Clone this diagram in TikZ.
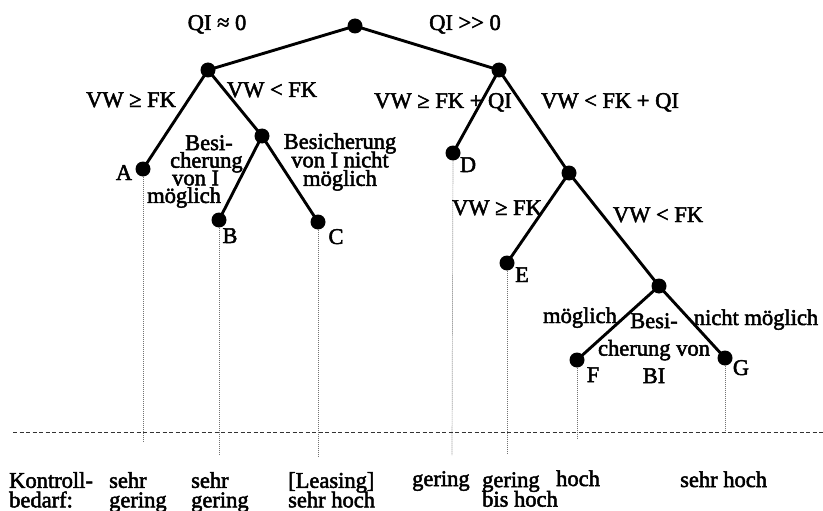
\documentclass[tikz,border=0pt]{standalone}
\usepackage{fontspec}
\setmainfont{Liberation Serif}[FakeBold=2.2]
\begin{document}
\begin{tikzpicture}[x=1pt,y=-1pt,
  dot/.style={circle,fill=black,inner sep=0pt,minimum width=15pt,minimum height=14pt},
  branch/.style={line width=2.9pt},
  leafline/.style={line width=0.7pt,draw=black!55,dash pattern=on 1pt off 1pt},
  baseline/.style={line width=0.9pt,draw=black!80,dash pattern=on 4pt off 2.5pt},
  lbl/.style={inner sep=0pt,font=\fontsize{22.5}{20}\selectfont},
  ml/.style={inner sep=0pt,anchor=north,font={\fontsize{22.5}{#1}\selectfont\lineskiplimit=-100pt}},
]
\useasboundingbox (0,0) rectangle (823,511);
% decision nodes
\node[dot] (root) at (355,26) {};
\node[dot] (l1) at (208,70) {};
\node[dot] (r1) at (499,70) {};
\node[dot] (A) at (143,169) {};
\node[dot] (n1) at (262,136) {};
\node[dot] (B) at (219,220) {};
\node[dot] (C) at (318,222) {};
\node[dot] (D) at (453,153) {};
\node[dot] (n2) at (569,173) {};
\node[dot] (E) at (507,263) {};
\node[dot] (n3) at (659,286) {};
\node[dot] (F) at (577,360) {};
\node[dot] (G) at (725,358) {};
% branches
\draw[branch] (root.center) -- (l1.center);
\draw[branch] (root.center) -- (r1.center);
\draw[branch] (l1.center) -- (A.center);
\draw[branch] (l1.center) -- (n1.center);
\draw[branch] (n1.center) -- (B.center);
\draw[branch] (n1.center) -- (C.center);
\draw[branch] (r1.center) -- (D.center);
\draw[branch] (r1.center) -- (n2.center);
\draw[branch] (n2.center) -- (E.center);
\draw[branch] (n2.center) -- (n3.center);
\draw[branch] (n3.center) -- (F.center);
\draw[branch] (n3.center) -- (G.center);
% leaf lines
\coordinate (Ae) at (143,442);
\coordinate (Be) at (219,455);
\coordinate (Ce) at (318,457);
\coordinate (De) at (452,455);
\coordinate (Ee) at (507,453);
\coordinate (Fe) at (577,438);
\coordinate (Ge) at (725,433);
\draw[leafline] (A) -- (Ae);
\draw[leafline] (B) -- (Be);
\draw[leafline] (C) -- (Ce);
\draw[leafline] (D) -- (De);
\draw[leafline] (E) -- (Ee);
\draw[leafline] (F) -- (Fe);
\draw[leafline] (G) -- (Ge);
% dashed base line
\coordinate (dl) at (13,432);
\coordinate (dr) at (823,432);
\draw[baseline] (dl) -- (dr);
% branch labels
\node[lbl,anchor=base] (t1) at (217,30) {QI ≈ 0};
\node[lbl,anchor=base] (t2) at (465,30) {QI >{}> 0};
\node[lbl,anchor=base] (t3) at (131,107) {VW ≥ FK};
\node[lbl,anchor=base] (t4) at (272,97) {VW < FK};
\node[lbl,anchor=base] (t5) at (443,108) {VW ≥ FK + QI};
\node[lbl,anchor=base] (t6) at (610,108) {VW < FK + QI};
\node[lbl,anchor=base] (t7) at (497,215) {VW ≥ FK};
\node[lbl,anchor=base] (t8) at (658,222) {VW < FK};
\node[lbl,anchor=base] (t9) at (580,323) {möglich};
\node[lbl,anchor=base] (t10) at (756,325) {nicht möglich};
\node[ml=17.6,anchor=north west,align=left] (t11) at (147,135)
  {\hspace*{38pt}Besi-\\\hspace*{23pt}cherung\\\hspace*{25pt}von I\\möglich};
\node[ml=18.5,align=center] (t12) at (340,133) {Besicherung\\von I nicht\\möglich};
\node[ml=27.5,align=center] (t13) at (654,313) {Besi-\\cherung von\\BI};
% leaf letters
\node[lbl,anchor=base] (lA) at (124,180) {A};
\node[lbl,anchor=base] (lB) at (230,243) {B};
\node[lbl,anchor=base] (lC) at (336,244) {C};
\node[lbl,anchor=base] (lD) at (468,172) {D};
\node[lbl,anchor=base] (lE) at (522,282) {E};
\node[lbl,anchor=base] (lF) at (593,382) {F};
\node[lbl,anchor=base] (lG) at (741,375) {G};
% bottom row
\node[ml=19.5,anchor=north west,align=left] (k0) at (9,472) {Kontroll-\\bedarf:};
\node[ml=19.5,anchor=north west,align=left] (k1) at (109,472) {sehr\\gering};
\node[ml=19.5,anchor=north west,align=left] (k2) at (191,472) {sehr\\gering};
\node[ml=19.5,anchor=north west,align=left] (k3) at (288,472) {[Leasing]\\sehr hoch};
\node[lbl,anchor=base west] (k4) at (412,486) {gering};
\node[ml=19.5,anchor=north west,align=left] (k5) at (482,472) {gering\\bis hoch};
\node[lbl,anchor=base west] (k6) at (556,486) {hoch};
\node[lbl,anchor=base west] (k7) at (680,487) {sehr hoch};
\end{tikzpicture}
\end{document}
